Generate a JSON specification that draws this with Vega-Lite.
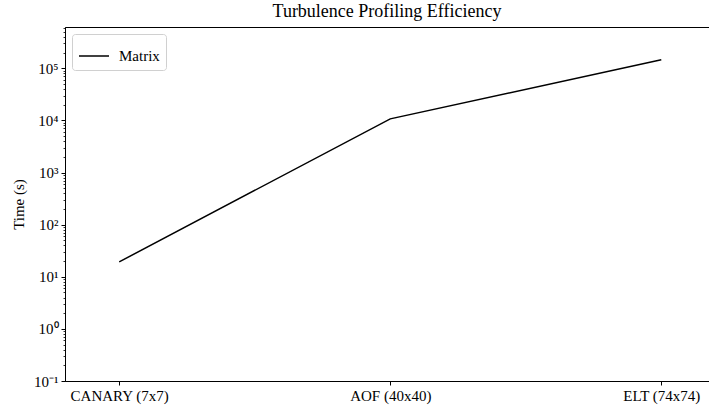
{
  "$schema": "https://vega.github.io/schema/vega-lite/v6.json",
  "autosize": "none",
  "width": 644,
  "height": 354,
  "padding": {"left": 65, "top": 27, "right": 0, "bottom": 24},
  "background": "white",
  "config": {
    "font": "Liberation Serif",
    "view": {"stroke": "black", "strokeWidth": 1},
    "axis": {"grid": false, "domainColor": "black", "tickColor": "black", "labelColor": "black", "titleColor": "black", "labelFont": "Liberation Serif", "titleFont": "Liberation Serif", "titleFontWeight": "normal", "labelFontSize": 15, "titleFontSize": 15, "domainWidth": 1, "tickWidth": 1}
  },
  "title": {"text": "Turbulence Profiling Efficiency", "fontSize": 18, "fontWeight": "normal", "font": "Liberation Serif", "color": "black", "anchor": "middle", "offset": 6},
  "data": {"values": [
    {"idx": 0, "system": "CANARY (7x7)", "time": 19.3, "series": "Matrix"},
    {"idx": 1, "system": "AOF (40x40)", "time": 10700, "series": "Matrix"},
    {"idx": 2, "system": "ELT (74x74)", "time": 146000, "series": "Matrix"}
  ]},
  "layer": [
    {
      "mark": {"type": "line", "strokeWidth": 1.5},
      "encoding": {
        "x": {"field": "idx", "type": "quantitative", "scale": {"domain": [-0.2, 2.176], "nice": false, "zero": false},
          "axis": {"values": [0, 1, 2], "labelExpr": "['CANARY (7x7)','AOF (40x40)','ELT (74x74)'][datum.value]", "title": null, "tickSize": 4, "labelPadding": 3, "labelFlush": false}},
        "y": {"field": "time", "type": "quantitative", "scale": {"type": "log", "domain": [0.1, 620000], "nice": false},
          "axis": {"values": [0.1, 1, 10, 100, 1000, 10000, 100000], "labelExpr": "'10' + ['⁻¹','⁰','¹','²','³','⁴','⁵'][round(log(datum.value)/LN10)+1]", "title": "Time (s)", "tickSize": 4, "labelPadding": 3, "titlePadding": 7}},
        "color": {"field": "series", "type": "nominal", "scale": {"range": ["black"]},
          "legend": {"title": null, "orient": "top-left", "offset": 7, "fillColor": "white", "strokeColor": "#d0d0d0", "cornerRadius": 3, "padding": 6, "symbolType": "stroke", "symbolSize": 900, "symbolStrokeWidth": 1.5, "labelFontSize": 15, "labelFont": "Liberation Serif", "labelColor": "black", "labelOffset": 9}}
      }
    },
    {
      "mark": {"type": "line", "opacity": 0},
      "encoding": {
        "x": {"field": "idx", "type": "quantitative"},
        "y": {"field": "time", "type": "quantitative",
          "axis": {"orient": "left", "values": [0.2,0.3,0.4,0.5,0.6,0.7,0.8,0.9,2,3,4,5,6,7,8,9,20,30,40,50,60,70,80,90,200,300,400,500,600,700,800,900,2000,3000,4000,5000,6000,7000,8000,9000,20000,30000,40000,50000,60000,70000,80000,90000,200000,300000,400000,500000,600000], "labels": false, "tickSize": 2, "domain": false, "title": null, "tickWidth": 0.8}}
      }
    }
  ],
  "resolve": {"axis": {"y": "independent"}}
}
